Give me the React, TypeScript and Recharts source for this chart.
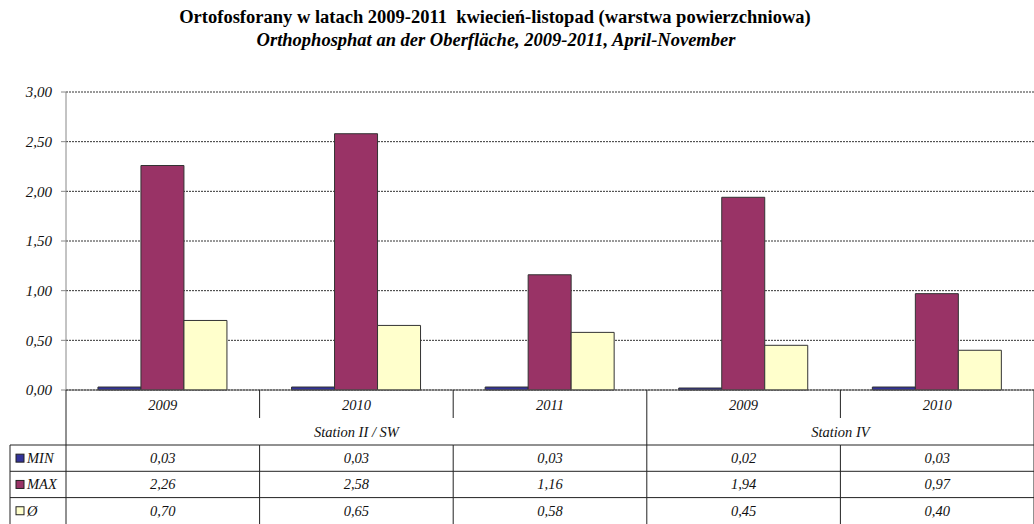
import React from 'react';
import { BarChart, Bar, XAxis, YAxis, CartesianGrid } from 'recharts';

const years = ['2009', '2010', '2011', '2009', '2010'];
const minValues = [0.03, 0.03, 0.03, 0.02, 0.03];
const maxValues = [2.26, 2.58, 1.16, 1.94, 0.97];
const avgValues = [0.7, 0.65, 0.58, 0.45, 0.4];
const yTicks = [0, 0.5, 1, 1.5, 2, 2.5, 3];

const groups = [
  { label: 'Station II / SW', start: 0, count: 3 },
  { label: 'Station IV', start: 3, count: 2 },
];

const series = [
  { key: 'min', label: 'MIN', color: '#333399', values: minValues },
  { key: 'max', label: 'MAX', color: '#993366', values: maxValues },
  { key: 'avg', label: 'Ø', color: '#FFFFCC', values: avgValues },
];

const data = years.map((year, i) => ({
  year,
  min: minValues[i],
  max: maxValues[i],
  avg: avgValues[i],
}));

const W = 1034;
const H = 524;
const LEFT = 66;
const TOP = 92;
const BOTTOM = 390;
const CAT_W = (W - LEFT) / years.length;
const TABLE_TOP = 445;
const ROW_H = 26.3;
const LINE = '#222';
const FONT = "'Liberation Serif', 'Times New Roman', Times, 'DejaVu Serif', serif";

const fmt = (v: number) => v.toFixed(2).replace('.', ',');

function TableTick(props: any) {
  const { x, payload } = props;
  const i: number = payload.index ?? props.index ?? 0;
  const x0 = x - CAT_W / 2;
  const x1 = x + CAT_W / 2;
  const isGroupEnd = groups.some((g) => g.start + g.count === i + 1);
  const group = groups.find((g) => g.start === i);
  const textStyle = { fontFamily: FONT, fontStyle: 'italic' as const, fontSize: 14.5, fill: '#111' };

  return (
    <g>
      <text x={x} y={410} textAnchor="middle" {...textStyle}>{payload.value}</text>

      {group && (
        <text x={x + ((group.count - 1) * CAT_W) / 2} y={437} textAnchor="middle" {...textStyle}>
          {group.label}
        </text>
      )}

      {/* right border of the cell */}
      {isGroupEnd ? (
        <line x1={x1} x2={x1} y1={BOTTOM} y2={H} stroke={LINE} />
      ) : (
        <>
          <line x1={x1} x2={x1} y1={BOTTOM} y2={418} stroke={LINE} />
          <line x1={x1} x2={x1} y1={TABLE_TOP} y2={H} stroke={LINE} />
        </>
      )}

      {series.map((s, r) => {
        const top = TABLE_TOP + r * ROW_H;
        return (
          <g key={s.key}>
            <line x1={x0} x2={x1} y1={top} y2={top} stroke={LINE} />
            <text x={x} y={top + ROW_H / 2 + 5} textAnchor="middle" {...textStyle}>
              {fmt(s.values[i])}
            </text>
          </g>
        );
      })}

      {i === 0 && (
        <g>
          <line x1={x0} x2={x0} y1={BOTTOM} y2={H} stroke={LINE} />
          <line x1={10} x2={10} y1={TABLE_TOP} y2={H} stroke={LINE} />
          {series.map((s, r) => {
            const top = TABLE_TOP + r * ROW_H;
            return (
              <g key={s.key}>
                <line x1={10} x2={x0} y1={top} y2={top} stroke={LINE} />
                <rect x={16} y={top + ROW_H / 2 - 4} width={8} height={8} fill={s.color} stroke="#222" />
                <text x={27} y={top + ROW_H / 2 + 5} {...textStyle}>{s.label}</text>
              </g>
            );
          })}
        </g>
      )}
    </g>
  );
}

export default function App() {
  return (
    <div style={{ position: 'absolute', left: 0, top: 0, width: W, height: H, background: '#fff' }}>
      <div
        style={{
          position: 'absolute', left: 0, width: 990, top: 7, textAlign: 'center',
          fontFamily: FONT, fontWeight: 'bold', fontSize: 18.5, color: '#000', whiteSpace: 'pre',
        }}
      >
        {'Ortofosforany w latach 2009-2011  kwiecień-listopad (warstwa powierzchniowa)'}
      </div>
      <div
        style={{
          position: 'absolute', left: 0, width: 992, top: 30, textAlign: 'center',
          fontFamily: FONT, fontWeight: 'bold', fontStyle: 'italic', fontSize: 18.5, color: '#000',
        }}
      >
        Orthophosphat an der Oberfläche, 2009-2011, April-November
      </div>

      <BarChart
        width={W}
        height={H}
        data={data}
        margin={{ top: TOP, right: 0, bottom: 0, left: 0 }}
        barCategoryGap="16.5%"
        barGap={0}
        style={{ position: 'absolute', left: 0, top: 0 }}
      >
        <CartesianGrid vertical={false} stroke="#333" strokeDasharray="2 1" />
        <YAxis
          width={LEFT}
          domain={[0, 3]}
          ticks={yTicks}
          tickFormatter={fmt}
          axisLine={{ stroke: '#888' }}
          tickLine={{ stroke: '#888' }}
          tickSize={5}
          tickMargin={9}
          tick={{ fontFamily: FONT, fontStyle: 'italic', fontSize: 15, fill: '#111' }}
        />
        <XAxis
          dataKey="year"
          height={H - BOTTOM}
          axisLine={{ stroke: '#555' }}
          tickLine={false}
          interval={0}
          tick={<TableTick />}
        />
        {series.map((s) => (
          <Bar key={s.key} dataKey={s.key} fill={s.color} stroke="#333" strokeWidth={1} isAnimationActive={false} />
        ))}
      </BarChart>
    </div>
  );
}
